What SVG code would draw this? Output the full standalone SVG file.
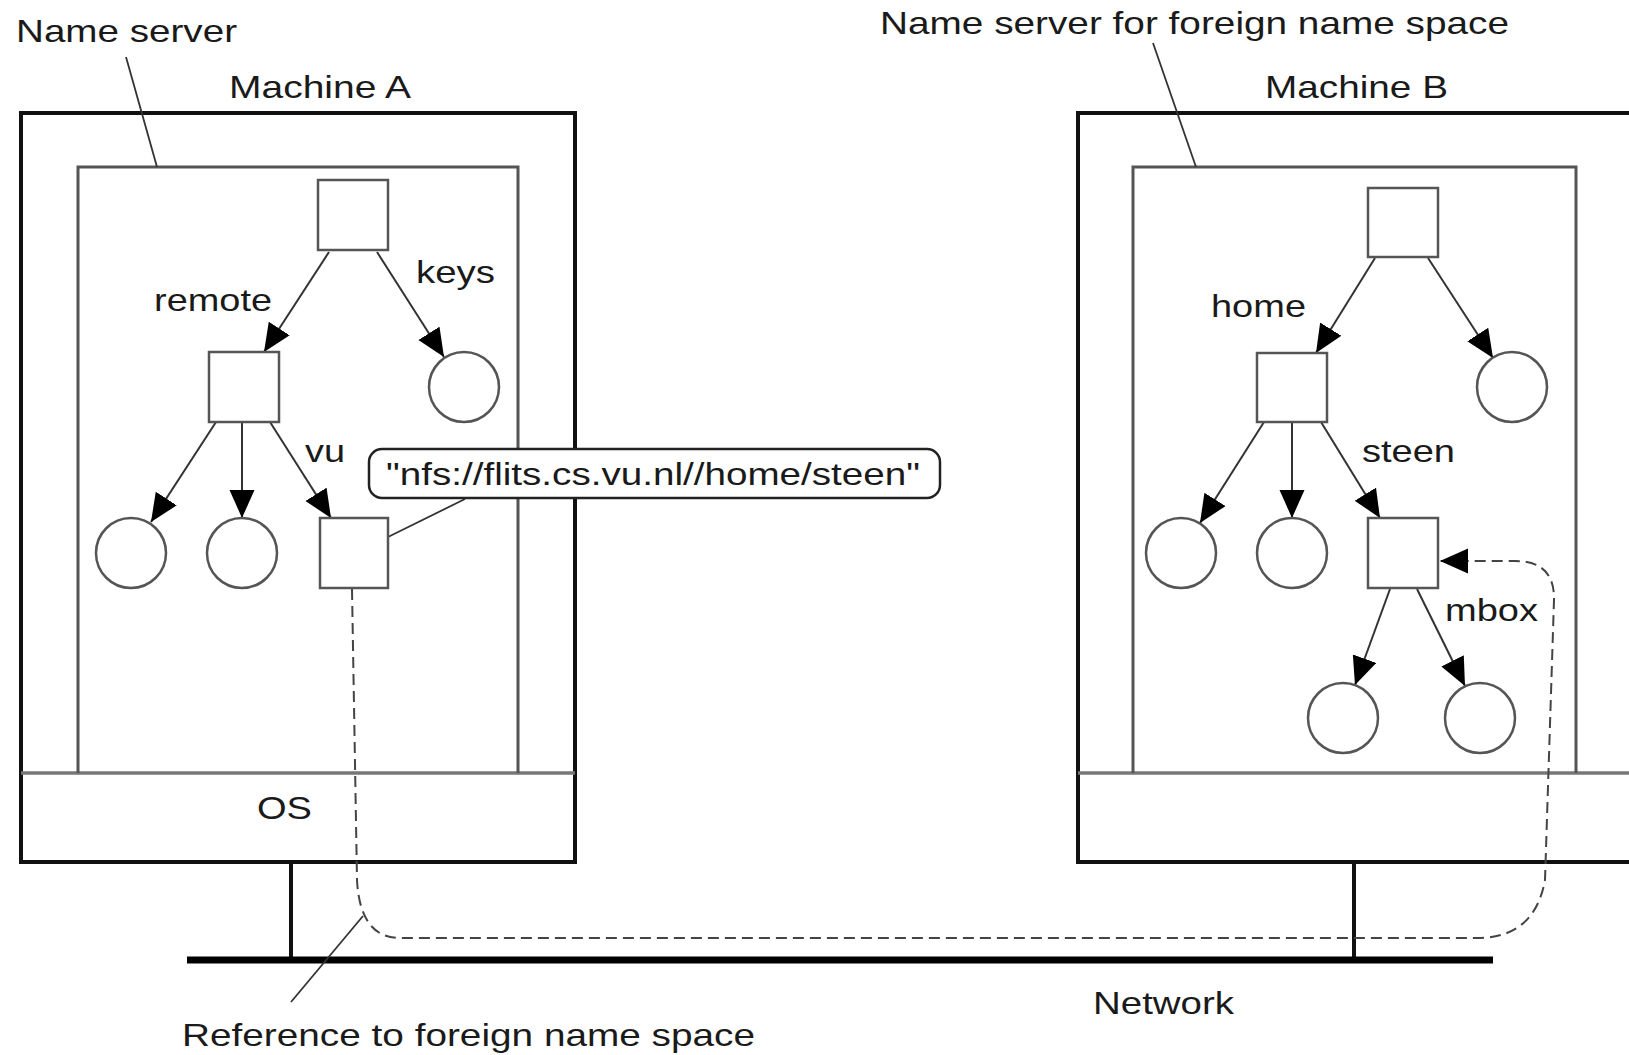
<svg xmlns="http://www.w3.org/2000/svg" width="1629" height="1055" viewBox="0 0 1629 1055">
<style>
text{font-family:"Liberation Sans",Arial,sans-serif;font-size:32px;fill:#1a1a1a}
.outer{fill:none;stroke:#111;stroke-width:4}
.inner{fill:none;stroke:#555;stroke-width:3}
.osl{stroke:#777;stroke-width:3.5}
.dir{fill:#fff;stroke:#555;stroke-width:2.5}
.edge{stroke:#333;stroke-width:2;fill:none;marker-end:url(#ah)}
.lead{stroke:#333;stroke-width:1.8;fill:none}
.dash{stroke:#444;stroke-width:2;fill:none;stroke-dasharray:11 6;marker-end:url(#ah)}
</style>
<defs>
<marker id="ah" markerUnits="userSpaceOnUse" markerWidth="30" markerHeight="28" refX="28" refY="12.5" orient="auto">
<path d="M0,0 L28,12.5 L0,25 z" fill="#000"/>
</marker>
</defs>
<rect width="1629" height="1055" fill="#fff"/>

<g id="machineA">
<rect class="outer" x="21" y="113" width="554" height="749"/>
<line class="osl" x1="21" y1="773" x2="575" y2="773"/>
<text x="229" y="98" textLength="182" lengthAdjust="spacingAndGlyphs">Machine A</text>
<text x="257" y="819" textLength="55" lengthAdjust="spacingAndGlyphs">OS</text>
<line x1="291" y1="862" x2="291" y2="958" stroke="#111" stroke-width="4"/>
</g>
<g id="nameserverA">
<path class="inner" d="M78,773 L78,167 L518,167 L518,773"/>
</g>

<g id="machineB">
<rect class="outer" x="1078" y="113" width="600" height="749"/>
<line class="osl" x1="1078" y1="773" x2="1629" y2="773"/>
<text x="1265" y="98" textLength="183" lengthAdjust="spacingAndGlyphs">Machine B</text>
<line x1="1354" y1="862" x2="1354" y2="958" stroke="#111" stroke-width="4"/>
</g>
<g id="nameserverB">
<path class="inner" d="M1133,773 L1133,167 L1576,167 L1576,773"/>
</g>

<g id="network">
<line x1="187" y1="960" x2="1493" y2="960" stroke="#000" stroke-width="7"/>
<text x="1093" y="1014" textLength="141" lengthAdjust="spacingAndGlyphs">Network</text>
</g>

<g id="labels">
<text x="16" y="42" textLength="221" lengthAdjust="spacingAndGlyphs">Name server</text>
<text x="880" y="34" textLength="629" lengthAdjust="spacingAndGlyphs">Name server for foreign name space</text>
<text x="182" y="1046" textLength="573" lengthAdjust="spacingAndGlyphs">Reference to foreign name space</text>
<text x="416" y="283" textLength="79" lengthAdjust="spacingAndGlyphs">keys</text>
<text x="154" y="311" textLength="118" lengthAdjust="spacingAndGlyphs">remote</text>
<text x="305" y="462" textLength="40" lengthAdjust="spacingAndGlyphs">vu</text>
<text x="1211" y="317" textLength="95" lengthAdjust="spacingAndGlyphs">home</text>
<text x="1362" y="462" textLength="93" lengthAdjust="spacingAndGlyphs">steen</text>
<text x="1445" y="621" textLength="93" lengthAdjust="spacingAndGlyphs">mbox</text>
</g>

<g id="connectors">
<line class="lead" x1="126" y1="57" x2="157" y2="167"/>
<line class="lead" x1="1153" y1="43" x2="1196" y2="167"/>
<line class="lead" x1="291" y1="1002" x2="363" y2="916"/>
<line class="lead" x1="388" y1="537" x2="465" y2="499"/>
<line class="edge" x1="329" y1="252" x2="264" y2="352"/>
<line class="edge" x1="377" y1="252" x2="444" y2="357"/>
<line class="edge" x1="216" y1="422" x2="151" y2="522"/>
<line class="edge" x1="242" y1="422" x2="242" y2="518"/>
<line class="edge" x1="270" y1="422" x2="331" y2="518"/>
<line class="edge" x1="1375" y1="258" x2="1316" y2="353"/>
<line class="edge" x1="1428" y1="258" x2="1493" y2="358"/>
<line class="edge" x1="1264" y1="422" x2="1200" y2="523"/>
<line class="edge" x1="1292" y1="422" x2="1292" y2="518"/>
<line class="edge" x1="1321" y1="422" x2="1380" y2="518"/>
<line class="edge" x1="1390" y1="589" x2="1355" y2="685"/>
<line class="edge" x1="1417" y1="589" x2="1465" y2="686"/>
<path class="dash" d="M352,589 L357,880 Q360,938 400,938 L1481,938 Q1535,936 1545,880 L1554,600 Q1555,561 1515,561 L1440,561"/>
</g>

<g id="rootA"><rect class="dir" x="318" y="180" width="70" height="70"/></g>
<g id="remoteA"><rect class="dir" x="209" y="352" width="70" height="70"/></g>
<g id="keysA"><circle class="dir" cx="464" cy="387" r="35"/></g>
<g id="leafA1"><circle class="dir" cx="131" cy="553" r="35"/></g>
<g id="leafA2"><circle class="dir" cx="242" cy="553" r="35"/></g>
<g id="vuA"><rect class="dir" x="320" y="518" width="68" height="70"/></g>

<g id="bubble">
<rect x="369" y="449" width="571" height="49" rx="13" fill="#fff" stroke="#222" stroke-width="2.5"/>
<text x="386" y="485" textLength="534" lengthAdjust="spacingAndGlyphs">"nfs://flits.cs.vu.nl//home/steen"</text>
</g>

<g id="rootB"><rect class="dir" x="1368" y="188" width="70" height="69"/></g>
<g id="homeB"><rect class="dir" x="1257" y="353" width="70" height="69"/></g>
<g id="leafB0"><circle class="dir" cx="1512" cy="387" r="35"/></g>
<g id="leafB1"><circle class="dir" cx="1181" cy="553" r="35"/></g>
<g id="leafB2"><circle class="dir" cx="1292" cy="553" r="35"/></g>
<g id="steenB"><rect class="dir" x="1368" y="518" width="70" height="70"/></g>
<g id="leafB3"><circle class="dir" cx="1343" cy="718" r="35"/></g>
<g id="leafB4"><circle class="dir" cx="1480" cy="718" r="35"/></g>
</svg>
